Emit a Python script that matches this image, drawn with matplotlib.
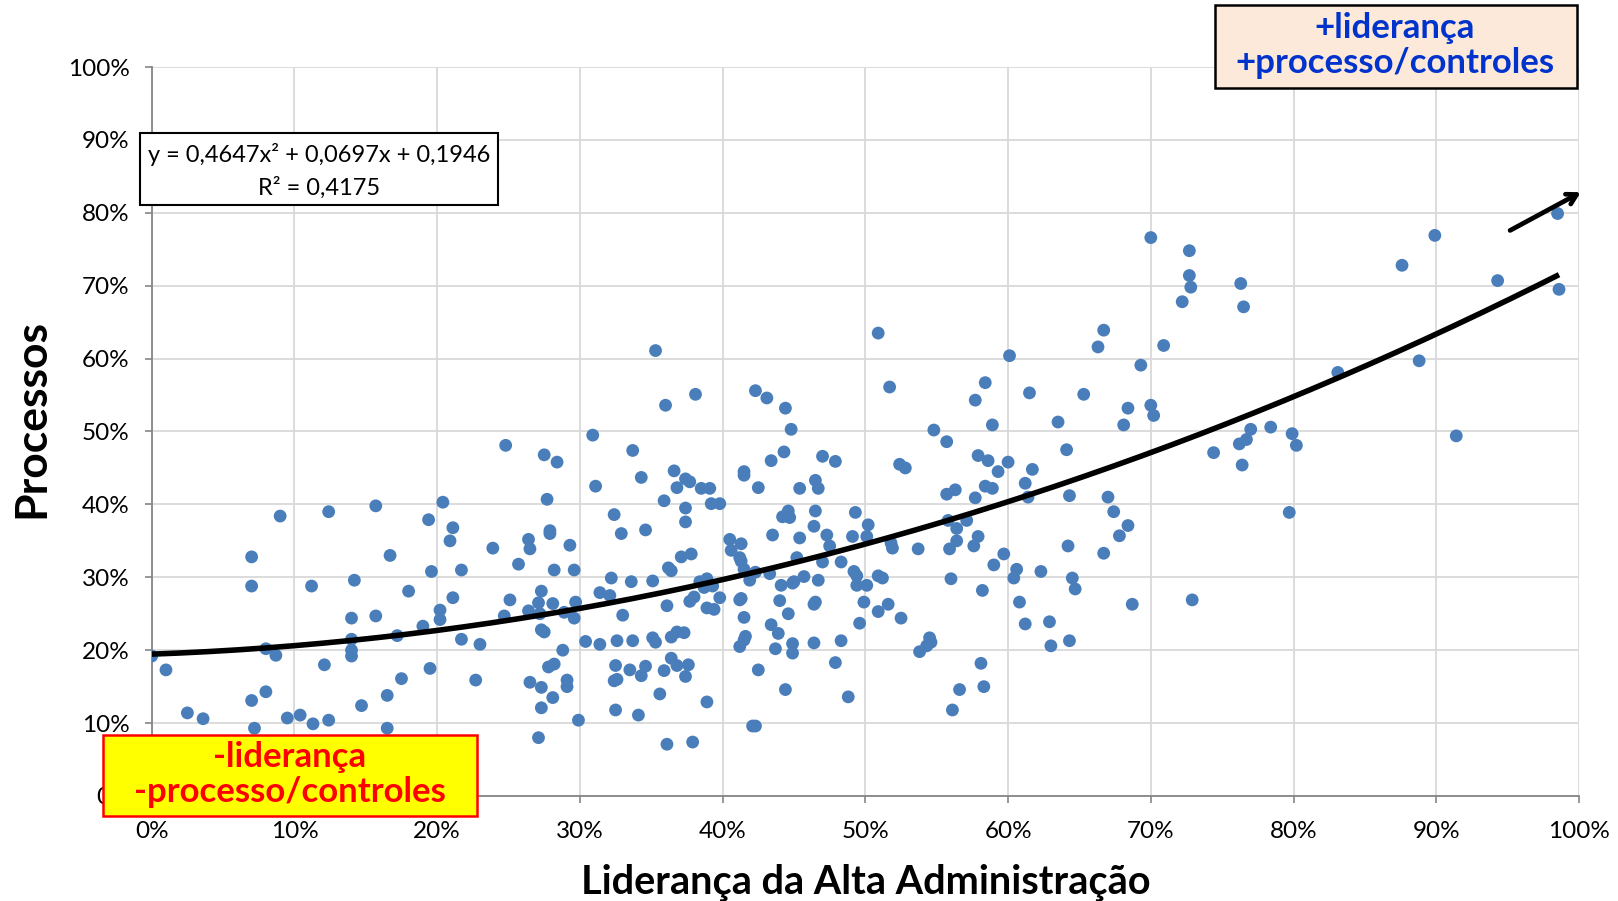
import matplotlib
matplotlib.use("Agg")
import matplotlib.pyplot as plt
import numpy as np
from matplotlib.ticker import PercentFormatter, MultipleLocator
from matplotlib.patches import Rectangle

# ---------------- data (percent) ----------------
lideranca = [
    0.0, 1.0, 2.5, 3.6, 7.0, 7.0, 7.0, 7.2, 8.0, 8.0, 8.7, 9.0, 9.5, 10.4, 11.2, 11.3, 12.1, 12.4, 12.4,
    14.0, 14.0, 14.0, 14.0, 14.2, 14.7, 15.7, 15.7, 16.5, 16.7, 16.5, 17.2, 17.5, 18.0, 19.0, 19.4, 19.5,
    19.6, 20.2, 20.2, 20.4, 21.1, 20.9, 21.7, 21.1, 21.7, 22.7, 23.0, 23.9, 24.7, 24.8, 25.1,
    27.5, 28.4, 27.7, 30.9, 31.1, 35.3, 36.0, 38.1, 33.7, 34.3, 36.6, 36.8, 37.4, 37.7, 38.5, 39.1, 35.9,
    37.4, 37.4, 39.2, 39.8, 26.4, 26.5, 27.9, 27.9, 29.3, 25.7, 28.2, 29.6, 32.4, 32.9, 34.6, 37.1, 37.8,
    36.2, 36.4, 32.2, 33.6, 35.1, 38.4, 38.9, 42.3, 43.1, 44.4, 44.8, 44.3, 43.4, 41.5, 41.5, 42.5, 45.4,
    46.5, 46.7, 47.0, 47.9, 44.6, 44.2, 44.7, 46.5, 46.4, 49.3, 50.2, 40.5, 41.3, 40.6, 41.2, 41.3, 43.5,
    45.4, 47.3, 47.5, 49.1, 50.1, 48.3, 47.0, 45.2, 41.5, 42.3, 43.3, 45.7, 45.0, 46.7, 49.2, 49.4,
    27.3, 27.1, 26.4, 28.1, 27.2, 28.9, 29.7, 29.6, 27.3, 27.5, 31.4, 32.1, 33.0, 36.1, 37.7, 38.0, 39.3,
    38.7, 38.9, 39.4, 39.8, 28.8, 30.4, 31.4, 32.6, 33.7, 35.1, 35.3, 36.4, 36.8, 37.3, 26.5, 27.3, 27.8,
    28.2, 28.1, 29.1, 29.1, 27.3, 29.9, 27.1, 32.5, 32.4, 32.6, 32.5, 33.5, 34.3, 34.6, 34.1, 35.9, 35.6,
    36.4, 36.8, 37.6, 37.4, 38.9, 36.1, 37.9, 41.2, 41.3, 41.5, 41.6, 41.5, 41.2, 41.9, 44.1, 44.0, 44.6,
    44.9, 46.4, 46.5, 43.4, 43.9, 44.9, 44.9, 43.7, 46.4, 48.3, 47.9, 42.5, 44.4, 42.1, 42.3, 48.8, 49.4,
    49.9, 49.6, 50.1,
    50.9, 51.7, 54.8, 55.7, 52.4, 52.8, 57.7, 58.4, 58.9, 60.1, 61.5, 63.5, 65.3, 66.3, 66.7, 69.3, 70.9,
    72.2, 68.4, 68.1, 70.0, 70.2, 74.4, 57.9, 58.6, 60.0, 59.3, 61.7, 61.2, 64.1, 58.4, 58.9, 55.7, 56.3,
    57.7, 61.4, 64.3, 67.0, 67.4, 68.4, 67.8, 64.2, 66.7, 51.8, 51.9, 53.7, 55.9, 56.4, 55.8, 56.4, 57.1,
    57.9, 57.6, 59.7, 59.0, 60.6, 62.3, 60.4, 64.5, 50.9, 51.2, 56.0,
    51.6, 50.9, 52.5, 58.2, 54.5, 54.6, 54.3, 53.8, 58.1, 56.6, 58.3, 56.1, 64.7, 60.8, 61.2, 62.9, 63.0,
    64.3, 68.7, 72.9,
    70.0, 72.7, 72.7, 72.8, 76.3, 76.5, 87.6, 89.9, 98.5, 94.3, 98.6, 83.1, 88.8, 91.4, 77.0, 78.4, 79.9,
    80.2, 76.7, 76.2, 76.4, 79.7,
]
processos = [
    19.2, 17.3, 11.4, 10.6, 32.8, 28.8, 13.1, 9.3, 20.2, 14.3, 19.3, 38.4, 10.7, 11.1, 28.8, 9.9, 18.0, 39.0, 10.4,
    24.4, 21.5, 20.0, 19.2, 29.6, 12.4, 39.8, 24.7, 13.8, 33.0, 9.3, 22.0, 16.1, 28.1, 23.3, 37.9, 17.5,
    30.8, 25.5, 24.2, 40.3, 36.8, 35.0, 31.0, 27.2, 21.5, 15.9, 20.8, 34.0, 24.7, 48.1, 26.9,
    46.8, 45.8, 40.7, 49.5, 42.5, 61.1, 53.6, 55.1, 47.4, 43.7, 44.6, 42.3, 43.5, 43.1, 42.2, 42.2, 40.5,
    39.5, 37.6, 40.1, 40.1, 35.2, 33.9, 36.4, 36.0, 34.4, 31.8, 31.0, 31.0, 38.6, 36.0, 36.5, 32.8, 33.2,
    31.3, 30.9, 29.9, 29.4, 29.5, 29.4, 29.8, 55.6, 54.6, 53.2, 50.3, 47.2, 46.0, 44.5, 44.0, 42.3, 42.2,
    43.3, 42.2, 46.6, 45.9, 39.1, 38.3, 38.2, 39.1, 37.0, 38.9, 37.2, 35.2, 34.6, 33.7, 32.7, 32.2, 35.8,
    35.4, 35.8, 34.3, 35.6, 35.6, 32.1, 32.1, 32.7, 31.1, 30.7, 30.5, 30.1, 29.4, 29.6, 30.8, 30.2,
    28.1, 26.5, 25.4, 26.4, 25.0, 25.2, 26.6, 24.4, 22.8, 22.5, 27.9, 27.5, 24.8, 26.1, 26.7, 27.3, 28.8,
    28.6, 25.8, 25.6, 27.2, 20.0, 21.2, 20.8, 21.3, 21.3, 21.7, 21.1, 21.8, 22.5, 22.4, 15.6, 14.9, 17.7,
    18.1, 13.5, 15.9, 15.0, 12.1, 10.4, 8.0, 17.9, 15.8, 16.0, 11.8, 17.3, 16.5, 17.8, 11.1, 17.2, 14.0,
    18.9, 17.9, 18.0, 16.4, 12.9, 7.1, 7.4, 26.9, 27.1, 24.5, 21.9, 21.4, 20.5, 29.6, 28.9, 26.8, 25.0,
    29.2, 26.3, 26.6, 23.5, 22.3, 20.9, 19.6, 20.2, 21.0, 21.3, 18.3, 17.3, 14.6, 9.6, 9.6, 13.6, 28.9,
    26.6, 23.7, 28.9,
    63.5, 56.1, 50.2, 48.6, 45.5, 45.0, 54.3, 56.7, 50.9, 60.4, 55.3, 51.3, 55.1, 61.6, 63.9, 59.1, 61.8,
    67.8, 53.2, 50.9, 53.6, 52.2, 47.1, 46.7, 46.0, 45.8, 44.5, 44.8, 42.9, 47.5, 42.5, 42.2, 41.4, 42.0,
    40.9, 41.0, 41.2, 41.0, 39.0, 37.1, 35.7, 34.3, 33.3, 34.7, 34.0, 33.9, 33.9, 35.0, 37.8, 36.7, 37.8,
    35.6, 34.3, 33.2, 31.7, 31.1, 30.8, 29.9, 29.9, 30.2, 29.9, 29.8,
    26.3, 25.3, 24.4, 28.2, 21.7, 21.1, 20.6, 19.8, 18.2, 14.6, 15.0, 11.8, 28.4, 26.6, 23.6, 23.9, 20.6,
    21.3, 26.3, 26.9,
    76.6, 74.8, 71.4, 69.8, 70.3, 67.1, 72.8, 76.9, 79.9, 70.7, 69.5, 58.1, 59.7, 49.4, 50.3, 50.6, 49.7,
    48.1, 48.9, 48.3, 45.4, 38.9,
]
trend_coefs = [0.4647, 0.0697, 0.1946]   # y = a x^2 + b x + c (Excel trendline)
equation_lines = ["y = 0,4647x\u00b2 + 0,0697x + 0,1946", "R\u00b2 = 0,4175"]
x_label = "Liderança da Alta Administração"
y_label = "Processos"
box_high = ["+liderança", "+processo/controles"]
box_low = ["-liderança", "-processo/controles"]

# ---------------- figure ----------------
plt.rcParams['font.family'] = ['Lato', 'DejaVu Sans']
W, H = 1618, 901
fig = plt.figure(figsize=(W / 100, H / 100), dpi=100)
ax = fig.add_axes([151.7 / W, 1 - 796 / H, (1579 - 151.7) / W, (796 - 67) / H])

x = np.array(lideranca) / 100.0
y = np.array(processos) / 100.0

ax.scatter(x, y, s=85, color='#4A7EBB', edgecolors='none', zorder=3)

xs = np.linspace(0, x.max(), 200)
a, b, c = trend_coefs
ax.plot(xs, a * xs ** 2 + b * xs + c, color='black', lw=4, zorder=4,
        solid_capstyle='butt')

ax.set_xlim(0, 1)
ax.set_ylim(0, 1)
ax.xaxis.set_major_locator(MultipleLocator(0.1))
ax.yaxis.set_major_locator(MultipleLocator(0.1))
ax.xaxis.set_major_formatter(PercentFormatter(1.0, decimals=0))
ax.yaxis.set_major_formatter(PercentFormatter(1.0, decimals=0))
ax.grid(True, color='#D9D9D9', lw=1.3, zorder=0)
ax.set_axisbelow(True)
for s in ['top', 'right']:
    ax.spines[s].set_visible(False)
for s in ['left', 'bottom']:
    ax.spines[s].set_color('#868686')
    ax.spines[s].set_linewidth(1.3)
ax.tick_params(axis='both', direction='out', length=5, width=1.2, color='#868686',
               labelsize=17.5, labelcolor='black')
ax.tick_params(axis='y', pad=11)
ax.tick_params(axis='x', pad=13)

fig.text(31 / W, 1 - 418 / H, y_label, rotation=90, ha='center', va='center',
         fontsize=32, fontweight='bold')
fig.text(866 / W, 1 - 882 / H, x_label, ha='center', va='center',
         fontsize=28.5, fontweight='bold')

# arrow
ax.annotate('', xy=(1.003, 0.83), xytext=(0.95, 0.774),
            arrowprops=dict(arrowstyle='->,head_length=0.7,head_width=0.4', color='black', lw=3.4),
            annotation_clip=False, zorder=6)

# equation box
fig.patches.append(Rectangle((140 / W, 1 - 205 / H), 358 / W, 72 / H, transform=fig.transFigure,
                             facecolor='white', edgecolor='black', lw=1.5, zorder=5))
fig.text(319 / W, 1 - 155 / H, equation_lines[0], ha='center', va='center', fontsize=17, zorder=6)
fig.text(319 / W, 1 - 188 / H, equation_lines[1], ha='center', va='center', fontsize=17, zorder=6)

# top-right box
fig.patches.append(Rectangle((1214.6 / W, 1 - 87.7 / H), 362 / W, 82.5 / H, transform=fig.transFigure,
                             facecolor='#FDE9D9', edgecolor='black', lw=1.8, zorder=5))
fig.text(1395 / W, 1 - 28 / H, box_high[0], ha='center', va='center', fontsize=25,
         fontweight='bold', color='#0033CC', zorder=6)
fig.text(1395 / W, 1 - 63 / H, box_high[1], ha='center', va='center', fontsize=25,
         fontweight='bold', color='#0033CC', zorder=6)

# bottom-left box
fig.patches.append(Rectangle((103.2 / W, 1 - 816.2 / H), 373.5 / W, 81.5 / H, transform=fig.transFigure,
                             facecolor='#FFFF00', edgecolor='#FF0000', lw=1.8, zorder=5))
fig.text(290 / W, 1 - 757 / H, box_low[0], ha='center', va='center', fontsize=25,
         fontweight='bold', color='#FF0000', zorder=6)
fig.text(290 / W, 1 - 792 / H, box_low[1], ha='center', va='center', fontsize=25,
         fontweight='bold', color='#FF0000', zorder=6)

fig.savefig('out.png', dpi=100)
